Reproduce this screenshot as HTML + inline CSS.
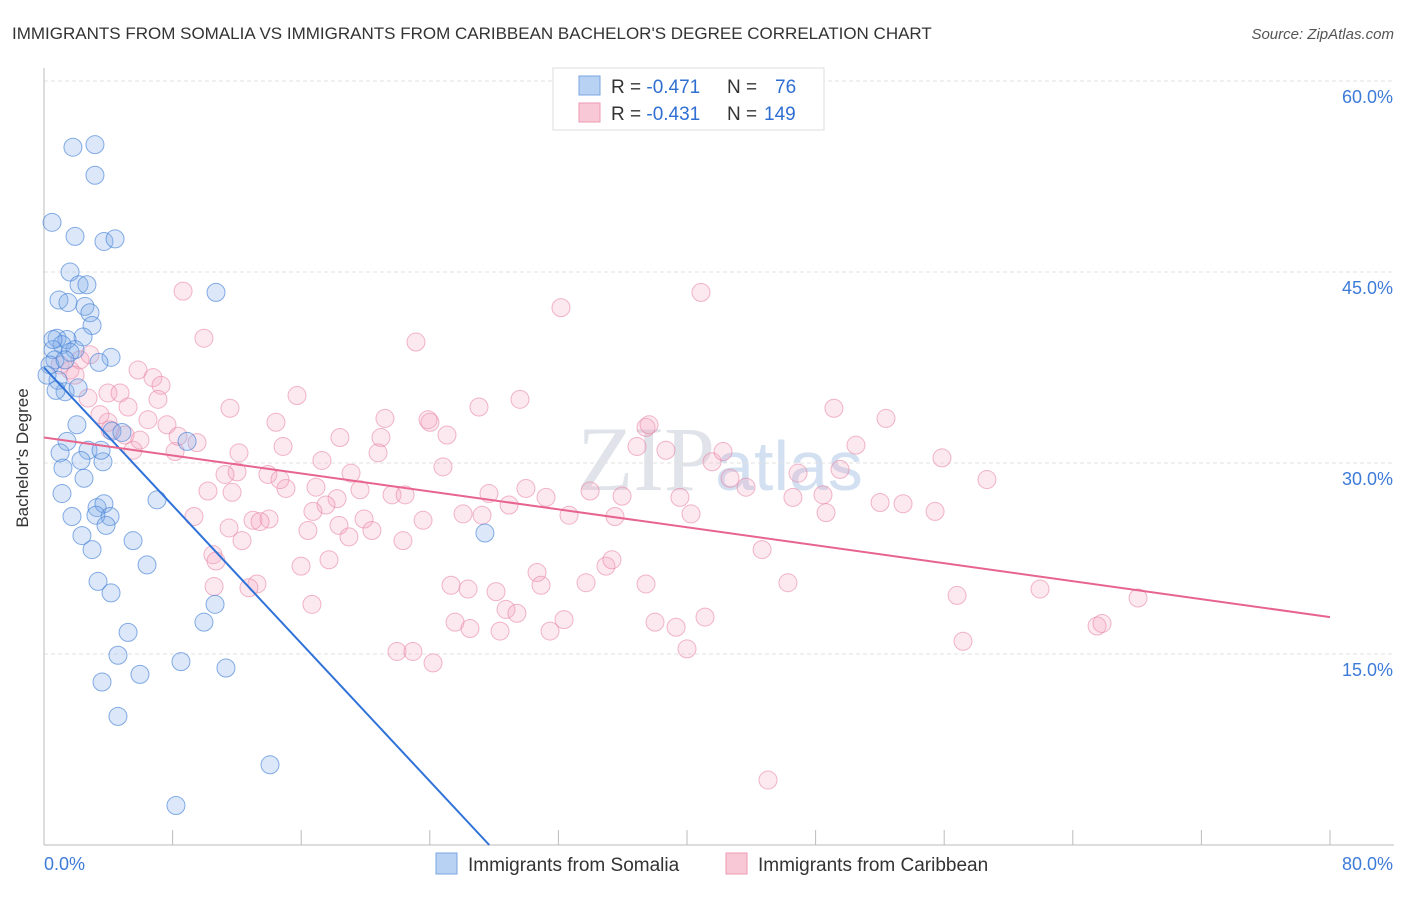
<!DOCTYPE html>
<html><head><meta charset="utf-8"><style>
body{margin:0;background:#fff;font-family:"Liberation Sans",sans-serif}
</style></head><body>
<svg id="c" width="1406" height="892" xmlns="http://www.w3.org/2000/svg" style="font-family:'Liberation Sans',sans-serif">
<text x="12" y="39" font-size="17" fill="#333">IMMIGRANTS FROM SOMALIA VS IMMIGRANTS FROM CARIBBEAN BACHELOR'S DEGREE CORRELATION CHART</text>
<text x="1394" y="39" font-size="15" fill="#555" font-style="italic" text-anchor="end">Source: ZipAtlas.com</text>
<text x="720" y="490" font-size="92" fill="#e0e3e9" text-anchor="middle" font-family="Liberation Serif,serif">ZIP<tspan fill="#d2e0f2" font-family="Liberation Sans,sans-serif" font-size="70">atlas</tspan></text>
<g id="grid"></g><g id="axes"></g><g id="pts"></g><g id="lines"></g>
<text x="28" y="458" font-size="17" fill="#333" text-anchor="middle" transform="rotate(-90 28 458)">Bachelor's Degree</text>
<g>
<rect x="553" y="68" width="271" height="62" fill="#fff" stroke="#ddd"/>
<rect x="579" y="76" width="21" height="19" fill="#b8d2f4" stroke="#7aa6e0"/>
<rect x="579" y="103" width="21" height="19" fill="#f9c8d6" stroke="#ec9ab2"/>
<text x="611" y="93" font-size="19" fill="#333">R = <tspan fill="#2f6fd3">-0.471</tspan><tspan x="727">N = </tspan><tspan x="775" fill="#2f6fd3">76</tspan></text>
<text x="611" y="120" font-size="19" fill="#333">R = <tspan fill="#2f6fd3">-0.431</tspan><tspan x="727">N = </tspan><tspan x="764" fill="#2f6fd3">149</tspan></text>
</g>
<g>
<rect x="436" y="853" width="21" height="21" fill="#b8d2f4" stroke="#7aa6e0"/>
<text x="468" y="871" font-size="19" fill="#333">Immigrants from Somalia</text>
<rect x="726" y="853" width="21" height="21" fill="#f9c8d6" stroke="#ec9ab2"/>
<text x="758" y="871" font-size="19" fill="#333">Immigrants from Caribbean</text>
</g>
</svg>
<script>
const blueX=[1.80,3.17,3.17,0.50,1.93,3.73,4.42,1.62,2.18,2.67,0.93,1.49,2.55,2.86,2.99,10.70,0.81,2.43,1.43,1.12,1.93,4.17,3.42,0.56,0.68,0.87,1.31,2.12,4.23,4.85,8.90,2.05,1.43,1.00,2.74,3.67,3.55,2.30,1.18,2.49,1.12,3.30,3.73,7.03,4.11,3.23,1.74,3.86,2.36,2.99,5.54,6.41,3.36,4.17,10.64,9.95,5.23,4.60,8.52,11.32,5.97,3.61,4.60,14.06,8.21,27.43,0.37,0.19,0.75,1.62,1.31,0.56];
const blueY=[54.8,55.0,52.6,48.9,47.8,47.4,47.6,45.0,44.0,44.0,42.8,42.6,42.3,41.8,40.8,43.4,39.8,39.9,39.7,39.3,38.9,38.3,37.9,38.9,38.1,36.5,35.6,35.9,32.5,32.4,31.7,33.0,31.7,30.8,31.0,30.1,31.0,30.2,29.6,28.8,27.6,26.5,26.8,27.1,25.8,25.9,25.8,25.1,24.3,23.2,23.9,22.0,20.7,19.8,18.9,17.5,16.7,14.9,14.4,13.9,13.4,12.8,10.1,6.3,3.1,24.5,37.7,36.9,35.7,38.7,38.1,39.7];
const pinkX=[8.65,9.95,32.16,40.87,23.14,5.85,6.78,7.28,3.98,4.73,2.74,5.23,7.09,15.74,6.47,7.65,3.98,5.04,5.54,8.15,8.34,9.52,14.43,14.87,12.13,18.41,20.96,21.21,24.01,25.07,27.06,29.61,23.89,24.82,17.29,19.10,20.78,12.01,11.26,10.20,11.70,13.93,15.05,16.92,18.23,17.54,16.73,19.91,21.65,22.46,23.58,26.07,27.25,27.68,28.93,29.98,31.23,32.66,33.97,35.96,35.52,37.45,36.89,38.69,37.64,39.56,40.25,41.56,42.24,42.68,43.67,46.91,46.59,48.46,48.65,49.14,49.52,50.51,52.01,52.38,53.44,55.43,55.86,58.66,9.33,13.00,14.00,13.44,11.51,12.32,16.42,18.35,18.97,20.40,22.33,15.99,17.73,13.25,10.51,10.70,12.75,16.67,10.58,30.67,25.32,26.38,30.92,28.12,28.74,29.42,33.72,34.96,35.33,37.45,46.28,56.80,61.96,68.06,44.67,25.57,26.50,28.37,31.48,32.35,38.01,39.32,41.12,40.00,21.96,22.95,24.20,65.51,65.82,57.17,45.04,11.57,14.68,19.66,3.48,1.62,2.24,2.86,1.00,1.93,4.11,5.97];
const pinkY=[43.5,39.8,42.2,43.4,39.5,37.3,36.7,36.1,35.5,35.5,35.1,34.4,35.0,35.3,33.4,33.0,33.2,32.2,31.0,30.9,32.1,31.6,33.2,31.3,30.8,32.0,32.0,33.5,33.2,32.2,34.4,35.0,33.4,29.7,30.2,29.2,30.8,29.3,29.1,27.8,27.7,29.1,28.0,28.1,27.2,26.7,26.2,25.6,27.5,27.5,25.5,26.0,25.9,27.6,26.7,28.0,27.3,25.9,27.8,27.4,25.8,32.8,31.3,31.0,33.0,27.3,26.0,30.1,30.9,28.8,28.1,29.2,27.3,27.5,26.1,34.3,29.5,31.4,26.9,33.5,26.8,26.2,30.4,28.7,25.8,25.5,25.6,25.4,24.9,23.9,24.7,25.1,24.2,24.7,23.9,21.9,22.4,20.5,22.8,22.3,20.2,18.9,20.3,21.4,20.4,20.1,20.4,19.9,18.5,18.2,20.6,21.9,22.4,20.5,20.6,19.6,20.1,19.4,23.2,17.5,17.0,16.8,16.8,17.7,17.5,17.1,17.9,15.4,15.2,15.2,14.3,17.2,17.4,16.0,5.1,34.3,28.7,27.9,33.8,37.3,38.1,38.5,37.7,36.9,32.6,31.8];
const blueTrend=[37.5,0];
const pinkTrend=[32.0,17.9];
const yTicks=[15,30,45,60];
const xTickCount=[0,8,16,24,32,40,48,56,64,72,80];
const NS='http://www.w3.org/2000/svg';
const X=v=>44+v*(1286/80), Y=v=>845-v*(764/60);
function mk(t,a,p){const e=document.createElementNS(NS,t);for(const k in a)e.setAttribute(k,a[k]);p.appendChild(e);return e;}
const grid=document.getElementById('grid'),axes=document.getElementById('axes'),pts=document.getElementById('pts'),lines=document.getElementById('lines');
yTicks.forEach(t=>{
 const l=mk('line',{x1:44,x2:1394,y1:Y(t),y2:Y(t),stroke:'#e2e2e2','stroke-dasharray':'4 3'},grid);
 
 
 const tx=mk('text',{x:1393,y:Y(t)+22,'font-size':18,fill:'#3d7bd9','text-anchor':'end'},axes);
 tx.textContent=t.toFixed(1)+'%';
 
 
});
const ax=mk('line',{x1:44,x2:44,y1:68,y2:845,stroke:'#bbb'},axes);


const bx=mk('line',{x1:44,x2:1394,y1:845,y2:845,stroke:'#bbb'},axes);


xTickCount.forEach(t=>{
 const l=mk('line',{x1:X(t),x2:X(t),y1:830,y2:845,stroke:'#bbb'},axes);
 
 
});
[[0,'0.0%','start',44],[80,'80.0%','end',1393]].forEach(d=>{
 const tx=mk('text',{x:d[3],y:870,'font-size':18,fill:'#3d7bd9','text-anchor':d[2]},axes);
 tx.textContent=d[1];
 
 
});
function dots(xs,ys,fill,stroke,name){xs.forEach((x,i)=>{
 const c=mk('circle',{cx:X(x),cy:Y(ys[i]),r:9,fill:fill,stroke:stroke,'stroke-width':1},pts);
 
 
});}
dots(pinkX,pinkY,'rgba(244,165,190,0.25)','rgba(232,135,165,0.6)','caribbean-point');
dots(blueX,blueY,'rgba(130,172,232,0.28)','rgba(70,130,215,0.65)','somalia-point');
const bl=mk('line',{x1:X(0),y1:Y(blueTrend[0]),x2:X(27.7),y2:Y(blueTrend[1]),stroke:'#2f72d8','stroke-width':2},lines);


const pl=mk('line',{x1:X(0),y1:Y(pinkTrend[0]),x2:X(80),y2:Y(pinkTrend[1]),stroke:'#e7648e','stroke-width':2},lines);


</script>
</body></html>
